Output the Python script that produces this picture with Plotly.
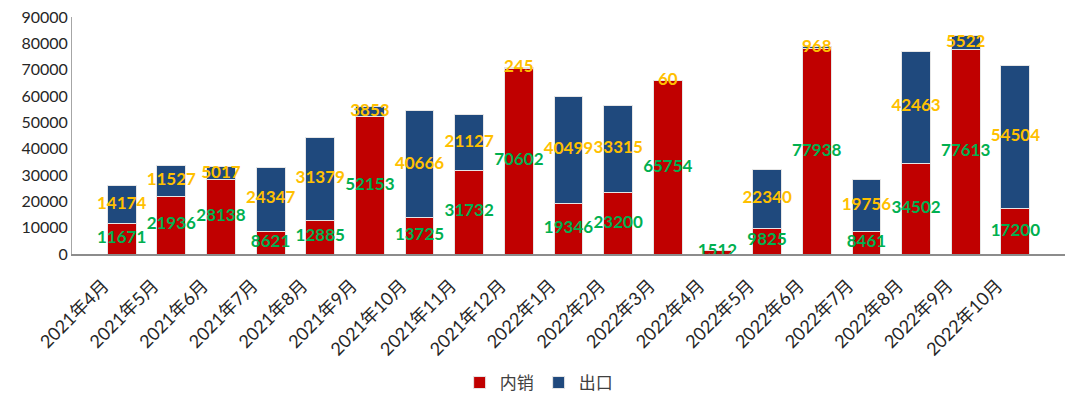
import plotly.graph_objects as go

months = ["2021年4月", "2021年5月", "2021年6月", "2021年7月", "2021年8月", "2021年9月",
          "2021年10月", "2021年11月", "2021年12月", "2022年1月", "2022年2月", "2022年3月",
          "2022年4月", "2022年5月", "2022年6月", "2022年7月", "2022年8月", "2022年9月",
          "2022年10月"]
domestic = [11671, 21936, 28138, 8621, 12885, 52153, 13725, 31732, 70602, 19346,
            23200, 65754, 1512, 9825, 77938, 8461, 34502, 77613, 17200]
export = [14174, 11527, 5017, 24347, 31379, 3853, 40666, 21127, 245, 40499,
          33315, 60, None, 22340, 968, 19756, 42463, 5522, 54504]

RED = "#C00000"
BLUE = "#1F497D"
GREEN = "#00B050"
GOLD = "#FFC000"
FONT = "Lato, 'Noto Sans CJK SC', sans-serif"

fig = go.Figure()
fig.add_trace(go.Bar(x=months, y=domestic, name="内销", marker=dict(color=RED, line=dict(color="#E6E6E6", width=1))))
fig.add_trace(go.Bar(x=months, y=[e if e is not None else 0 for e in export], name="出口",
                     marker=dict(color=BLUE, line=dict(color="#E6E6E6", width=1))))

# data labels at segment centres
dom_mid = [d / 2 for d in domestic]
exp_x = [m for m, e in zip(months, export) if e is not None]
exp_mid = [d + e / 2 for d, e in zip(domestic, export) if e is not None]
exp_txt = [str(e) for e in export if e is not None]

fig.add_trace(go.Scatter(x=months, y=dom_mid, mode="text", text=[str(d) for d in domestic],
                         textfont=dict(color=GREEN, size=17, family=FONT, weight="bold"),
                         showlegend=False, hoverinfo="skip", cliponaxis=False))
fig.add_trace(go.Scatter(x=exp_x, y=exp_mid, mode="text", text=exp_txt,
                         textfont=dict(color=GOLD, size=17, family=FONT, weight="bold"),
                         showlegend=False, hoverinfo="skip", cliponaxis=False))

fig.update_layout(
    width=1072, height=391,
    barmode="stack", bargap=0.42,
    plot_bgcolor="white", paper_bgcolor="white",
    margin=dict(l=64, r=15, t=9, b=145, autoexpand=False),
    font=dict(family=FONT, size=16, color="#262626"),
    legend=dict(orientation="h", xref="container", x=0.495, xanchor="center",
                yref="container", y=0.041, yanchor="middle",
                font=dict(size=17, color="#404040"), traceorder="normal"),
    xaxis=dict(tickangle=-45, showline=True, linecolor="#8C8C8C", linewidth=2,
               ticks="", showgrid=False, automargin=False, ticklabelshift=-18,
               ticklabelstandoff=12, ticklabeloverflow="allow",
               tickfont=dict(size=18, color="#262626")),
    yaxis=dict(range=[0, 90000], dtick=10000, showline=True, linecolor="#A6A6A6", linewidth=1,
               showgrid=False, ticks="", tickformat="d", zeroline=False, automargin=False,
               ticklabeloverflow="allow",
               tickfont=dict(size=16, color="#262626")),
)

fig.write_html("out.html")
